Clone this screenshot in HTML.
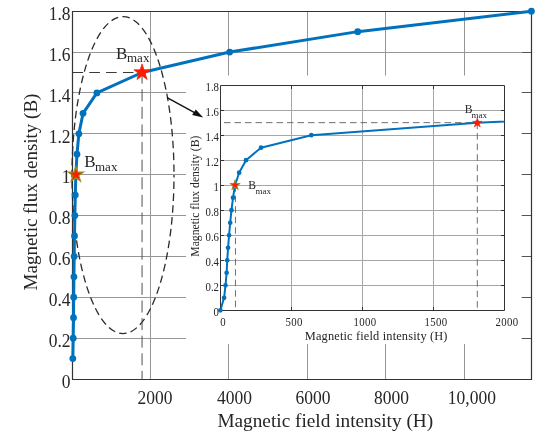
<!DOCTYPE html><html><head><meta charset="utf-8"><style>html,body{margin:0;padding:0;background:#fff;width:550px;height:439px;overflow:hidden}svg{display:block;will-change:transform}text{font-family:"Liberation Serif",serif;fill:#262626}</style></head><body>
<svg width="550" height="439" viewBox="0 0 550 439">
<rect width="550" height="439" fill="#fff"/>
<line x1="72.5" y1="338.5" x2="531.5" y2="338.5" stroke="#969696" stroke-width="1"/>
<line x1="72.5" y1="297.5" x2="531.5" y2="297.5" stroke="#969696" stroke-width="1"/>
<line x1="72.5" y1="256.5" x2="531.5" y2="256.5" stroke="#969696" stroke-width="1"/>
<line x1="72.5" y1="215.5" x2="531.5" y2="215.5" stroke="#969696" stroke-width="1"/>
<line x1="72.5" y1="174.5" x2="531.5" y2="174.5" stroke="#969696" stroke-width="1"/>
<line x1="72.5" y1="133.5" x2="531.5" y2="133.5" stroke="#969696" stroke-width="1"/>
<line x1="72.5" y1="92.5" x2="531.5" y2="92.5" stroke="#969696" stroke-width="1"/>
<line x1="72.5" y1="52.5" x2="531.5" y2="52.5" stroke="#969696" stroke-width="1"/>
<line x1="150.5" y1="11.5" x2="150.5" y2="379.5" stroke="#969696" stroke-width="1"/>
<line x1="228.5" y1="11.5" x2="228.5" y2="379.5" stroke="#969696" stroke-width="1"/>
<line x1="307.5" y1="11.5" x2="307.5" y2="379.5" stroke="#969696" stroke-width="1"/>
<line x1="385.5" y1="11.5" x2="385.5" y2="379.5" stroke="#969696" stroke-width="1"/>
<line x1="464.5" y1="11.5" x2="464.5" y2="379.5" stroke="#969696" stroke-width="1"/>
<line x1="522.0" y1="338.5" x2="531.5" y2="338.5" stroke="#555" stroke-width="1"/>
<line x1="522.0" y1="297.5" x2="531.5" y2="297.5" stroke="#555" stroke-width="1"/>
<line x1="522.0" y1="256.5" x2="531.5" y2="256.5" stroke="#555" stroke-width="1"/>
<line x1="522.0" y1="215.5" x2="531.5" y2="215.5" stroke="#555" stroke-width="1"/>
<line x1="522.0" y1="174.5" x2="531.5" y2="174.5" stroke="#555" stroke-width="1"/>
<line x1="522.0" y1="133.5" x2="531.5" y2="133.5" stroke="#555" stroke-width="1"/>
<line x1="522.0" y1="92.5" x2="531.5" y2="92.5" stroke="#555" stroke-width="1"/>
<line x1="522.0" y1="52.5" x2="531.5" y2="52.5" stroke="#555" stroke-width="1"/>
<path d="M72.5 11.5H531.5V379.5H72.5Z" fill="none" stroke="#333333" stroke-width="1.2"/>
<ellipse cx="123" cy="175.1" rx="51" ry="158.5" fill="none" stroke="#2a2a2a" stroke-width="1.3" stroke-dasharray="7.5 4.3" stroke-dashoffset="5.15"/>
<line x1="72.5" y1="72.5" x2="142.06" y2="72.5" stroke="#3a3a3a" stroke-width="1.1" stroke-dasharray="10.6 6.2"/>
<line x1="142.06" y1="72.5" x2="142.06" y2="379.5" stroke="#505050" stroke-width="1" stroke-dasharray="12 5.6" stroke-dashoffset="0.8"/>
<polyline points="72.82,358.57 73.21,338.13 73.53,317.7 73.68,297.27 73.92,276.83 74.19,256.4 74.51,235.97 74.86,215.54 75.29,195.1 75.84,174.67 76.98,154.24 78.86,133.8 83.03,113.37 96.92,92.94 142.06,72.5 229.7,52.07 357.74,31.64 531.42,11.21" fill="none" stroke="#0072BD" stroke-width="3.0" stroke-linejoin="round"/>
<circle cx="72.82" cy="358.57" r="3.4" fill="#0072BD"/>
<circle cx="73.21" cy="338.13" r="3.4" fill="#0072BD"/>
<circle cx="73.53" cy="317.7" r="3.4" fill="#0072BD"/>
<circle cx="73.68" cy="297.27" r="3.4" fill="#0072BD"/>
<circle cx="73.92" cy="276.83" r="3.4" fill="#0072BD"/>
<circle cx="74.19" cy="256.4" r="3.4" fill="#0072BD"/>
<circle cx="74.51" cy="235.97" r="3.4" fill="#0072BD"/>
<circle cx="74.86" cy="215.54" r="3.4" fill="#0072BD"/>
<circle cx="75.29" cy="195.1" r="3.4" fill="#0072BD"/>
<circle cx="75.84" cy="174.67" r="3.4" fill="#0072BD"/>
<circle cx="76.98" cy="154.24" r="3.4" fill="#0072BD"/>
<circle cx="78.86" cy="133.8" r="3.4" fill="#0072BD"/>
<circle cx="83.03" cy="113.37" r="3.4" fill="#0072BD"/>
<circle cx="96.92" cy="92.94" r="3.4" fill="#0072BD"/>
<circle cx="142.06" cy="72.5" r="3.4" fill="#0072BD"/>
<circle cx="229.7" cy="52.07" r="3.4" fill="#0072BD"/>
<circle cx="357.74" cy="31.64" r="3.4" fill="#0072BD"/>
<circle cx="531.42" cy="11.21" r="3.4" fill="#0072BD"/>
<polygon points="75.84,166.67 77.64,172.2 83.45,172.2 78.75,175.61 80.55,181.14 75.84,177.73 71.14,181.14 72.94,175.61 68.23,172.2 74.05,172.2" fill="#ff1a00" stroke="#9a8a1a" stroke-width="1.2" stroke-linejoin="miter"/>
<polygon points="142.06,63.9 143.99,69.85 150.24,69.85 145.18,73.52 147.11,79.46 142.06,75.79 137,79.46 138.93,73.52 133.88,69.85 140.13,69.85" fill="#ff1a00" stroke="#e82a10" stroke-width="0.8"/>
<text x="84.3" y="167" font-size="17">B</text><text x="95" y="170.5" font-size="13">max</text>
<text x="116" y="59.3" font-size="17">B</text><text x="127" y="62.3" font-size="13">max</text>
<rect x="186" y="75.5" width="335.5" height="268.5" fill="#fff"/>
<line x1="220.5" y1="285.5" x2="504.5" y2="285.5" stroke="#a6a6a6" stroke-width="1"/>
<line x1="220.5" y1="260.5" x2="504.5" y2="260.5" stroke="#a6a6a6" stroke-width="1"/>
<line x1="220.5" y1="235.5" x2="504.5" y2="235.5" stroke="#a6a6a6" stroke-width="1"/>
<line x1="220.5" y1="210.5" x2="504.5" y2="210.5" stroke="#a6a6a6" stroke-width="1"/>
<line x1="220.5" y1="185.5" x2="504.5" y2="185.5" stroke="#a6a6a6" stroke-width="1"/>
<line x1="220.5" y1="160.5" x2="504.5" y2="160.5" stroke="#a6a6a6" stroke-width="1"/>
<line x1="220.5" y1="135.5" x2="504.5" y2="135.5" stroke="#a6a6a6" stroke-width="1"/>
<line x1="220.5" y1="110.5" x2="504.5" y2="110.5" stroke="#a6a6a6" stroke-width="1"/>
<line x1="291.5" y1="85.5" x2="291.5" y2="310.5" stroke="#a6a6a6" stroke-width="1"/>
<line x1="362.5" y1="85.5" x2="362.5" y2="310.5" stroke="#a6a6a6" stroke-width="1"/>
<line x1="433.5" y1="85.5" x2="433.5" y2="310.5" stroke="#a6a6a6" stroke-width="1"/>
<line x1="220.5" y1="285.5" x2="224.0" y2="285.5" stroke="#333333" stroke-width="1"/>
<line x1="501.0" y1="285.5" x2="504.5" y2="285.5" stroke="#333333" stroke-width="1"/>
<line x1="220.5" y1="260.5" x2="224.0" y2="260.5" stroke="#333333" stroke-width="1"/>
<line x1="501.0" y1="260.5" x2="504.5" y2="260.5" stroke="#333333" stroke-width="1"/>
<line x1="220.5" y1="235.5" x2="224.0" y2="235.5" stroke="#333333" stroke-width="1"/>
<line x1="501.0" y1="235.5" x2="504.5" y2="235.5" stroke="#333333" stroke-width="1"/>
<line x1="220.5" y1="210.5" x2="224.0" y2="210.5" stroke="#333333" stroke-width="1"/>
<line x1="501.0" y1="210.5" x2="504.5" y2="210.5" stroke="#333333" stroke-width="1"/>
<line x1="220.5" y1="185.5" x2="224.0" y2="185.5" stroke="#333333" stroke-width="1"/>
<line x1="501.0" y1="185.5" x2="504.5" y2="185.5" stroke="#333333" stroke-width="1"/>
<line x1="220.5" y1="160.5" x2="224.0" y2="160.5" stroke="#333333" stroke-width="1"/>
<line x1="501.0" y1="160.5" x2="504.5" y2="160.5" stroke="#333333" stroke-width="1"/>
<line x1="220.5" y1="135.5" x2="224.0" y2="135.5" stroke="#333333" stroke-width="1"/>
<line x1="501.0" y1="135.5" x2="504.5" y2="135.5" stroke="#333333" stroke-width="1"/>
<line x1="220.5" y1="110.5" x2="224.0" y2="110.5" stroke="#333333" stroke-width="1"/>
<line x1="501.0" y1="110.5" x2="504.5" y2="110.5" stroke="#333333" stroke-width="1"/>
<line x1="291.5" y1="310.5" x2="291.5" y2="307.0" stroke="#333333" stroke-width="1"/>
<line x1="291.5" y1="85.5" x2="291.5" y2="89.0" stroke="#333333" stroke-width="1"/>
<line x1="362.5" y1="310.5" x2="362.5" y2="307.0" stroke="#333333" stroke-width="1"/>
<line x1="362.5" y1="85.5" x2="362.5" y2="89.0" stroke="#333333" stroke-width="1"/>
<line x1="433.5" y1="310.5" x2="433.5" y2="307.0" stroke="#333333" stroke-width="1"/>
<line x1="433.5" y1="85.5" x2="433.5" y2="89.0" stroke="#333333" stroke-width="1"/>
<path d="M220.5 85.5H504.5V310.5H220.5Z" fill="none" stroke="#333333" stroke-width="1"/>
<line x1="220.5" y1="122.65" x2="477.3" y2="122.65" stroke="#5e5e5e" stroke-width="0.9" stroke-dasharray="6.5 4" stroke-dashoffset="7"/>
<line x1="477.3" y1="122.65" x2="477.3" y2="310.5" stroke="#5e5e5e" stroke-width="0.9" stroke-dasharray="6.5 4"/>
<line x1="235.46" y1="185.2" x2="235.46" y2="310.5" stroke="#5e5e5e" stroke-width="0.9" stroke-dasharray="6.5 4"/>
<clipPath id="ic"><rect x="220.5" y="80.5" width="284.0" height="235.0"/></clipPath>
<g clip-path="url(#ic)"><polyline points="220.4,310.3 224.09,297.79 225.51,285.28 226.65,272.77 227.22,260.26 228.07,247.75 229.07,235.24 230.2,222.73 231.48,210.22 233.04,197.71 235.03,185.2 239.15,172.69 245.97,160.18 261.03,147.67 311.31,135.16 477.23,122.65 791.87,110.14" fill="none" stroke="#0072BD" stroke-width="2" stroke-linejoin="round"/></g>
<circle cx="220.4" cy="310.3" r="2.35" fill="#0072BD"/>
<circle cx="224.09" cy="297.79" r="2.35" fill="#0072BD"/>
<circle cx="225.51" cy="285.28" r="2.35" fill="#0072BD"/>
<circle cx="226.65" cy="272.77" r="2.35" fill="#0072BD"/>
<circle cx="227.22" cy="260.26" r="2.35" fill="#0072BD"/>
<circle cx="228.07" cy="247.75" r="2.35" fill="#0072BD"/>
<circle cx="229.07" cy="235.24" r="2.35" fill="#0072BD"/>
<circle cx="230.2" cy="222.73" r="2.35" fill="#0072BD"/>
<circle cx="231.48" cy="210.22" r="2.35" fill="#0072BD"/>
<circle cx="233.04" cy="197.71" r="2.35" fill="#0072BD"/>
<circle cx="235.03" cy="185.2" r="2.35" fill="#0072BD"/>
<circle cx="239.15" cy="172.69" r="2.35" fill="#0072BD"/>
<circle cx="245.97" cy="160.18" r="2.35" fill="#0072BD"/>
<circle cx="261.03" cy="147.67" r="2.35" fill="#0072BD"/>
<circle cx="311.31" cy="135.16" r="2.35" fill="#0072BD"/>
<circle cx="477.23" cy="122.65" r="2.35" fill="#0072BD"/>
<polygon points="235.03,179.8 236.24,183.53 240.17,183.53 236.99,185.84 238.21,189.57 235.03,187.26 231.86,189.57 233.07,185.84 229.9,183.53 233.82,183.53" fill="#ff1a00" stroke="#8a9a2a" stroke-width="1"/>
<polygon points="477.3,117.9 478.42,121.35 482.06,121.35 479.12,123.49 480.24,126.95 477.3,124.81 474.36,126.95 475.48,123.49 472.54,121.35 476.18,121.35" fill="#ff1a00" stroke="#e82a10" stroke-width="0.6"/>
<text x="248.2" y="188.7" font-size="11.6">B</text><text x="255.6" y="193.9" font-size="9">max</text>
<text x="464.7" y="112.9" font-size="11.6">B</text><text x="471.6" y="117.8" font-size="9">max</text>
<text transform="translate(219 315.9) scale(1 1.1)" font-size="10.8" text-anchor="end">0</text>
<text transform="translate(219 290.88) scale(1 1.1)" font-size="10.8" text-anchor="end">0.2</text>
<text transform="translate(219 265.86) scale(1 1.1)" font-size="10.8" text-anchor="end">0.4</text>
<text transform="translate(219 240.84) scale(1 1.1)" font-size="10.8" text-anchor="end">0.6</text>
<text transform="translate(219 215.82) scale(1 1.1)" font-size="10.8" text-anchor="end">0.8</text>
<text transform="translate(219 190.8) scale(1 1.1)" font-size="10.8" text-anchor="end">1</text>
<text transform="translate(219 165.78) scale(1 1.1)" font-size="10.8" text-anchor="end">1.2</text>
<text transform="translate(219 140.76) scale(1 1.1)" font-size="10.8" text-anchor="end">1.4</text>
<text transform="translate(219 115.74) scale(1 1.1)" font-size="10.8" text-anchor="end">1.6</text>
<text transform="translate(219 90.72) scale(1 1.1)" font-size="10.8" text-anchor="end">1.8</text>
<text transform="translate(223 325.8) scale(1 1.1)" font-size="10.8" letter-spacing="0.35" text-anchor="middle">0</text>
<text transform="translate(294.03 325.8) scale(1 1.1)" font-size="10.8" letter-spacing="0.35" text-anchor="middle">500</text>
<text transform="translate(365.05 325.8) scale(1 1.1)" font-size="10.8" letter-spacing="0.35" text-anchor="middle">1000</text>
<text transform="translate(436.08 325.8) scale(1 1.1)" font-size="10.8" letter-spacing="0.35" text-anchor="middle">1500</text>
<text transform="translate(507.1 325.8) scale(1 1.1)" font-size="10.8" letter-spacing="0.35" text-anchor="middle">2000</text>
<text x="376.2" y="340.2" font-size="12.4" letter-spacing="0.15" text-anchor="middle">Magnetic field intensity (H)</text>
<text transform="translate(198.9 196.2) rotate(-90)" font-size="11.7" text-anchor="middle">Magnetic flux density (B)</text>
<line x1="167.1" y1="97.7" x2="195" y2="112.8" stroke="#111" stroke-width="1.4"/>
<polygon points="203.2,117.6 192.1,114.9 195.8,109.6" fill="#111"/>
<text transform="translate(70.6 387.7) scale(1 1.12)" font-size="17.5" text-anchor="end">0</text>
<text transform="translate(70.6 346.83) scale(1 1.12)" font-size="17.5" text-anchor="end">0.2</text>
<text transform="translate(70.6 305.97) scale(1 1.12)" font-size="17.5" text-anchor="end">0.4</text>
<text transform="translate(70.6 265.1) scale(1 1.12)" font-size="17.5" text-anchor="end">0.6</text>
<text transform="translate(70.6 224.24) scale(1 1.12)" font-size="17.5" text-anchor="end">0.8</text>
<text transform="translate(70.6 183.37) scale(1 1.12)" font-size="17.5" text-anchor="end">1</text>
<text transform="translate(70.6 142.5) scale(1 1.12)" font-size="17.5" text-anchor="end">1.2</text>
<text transform="translate(70.6 101.64) scale(1 1.12)" font-size="17.5" text-anchor="end">1.4</text>
<text transform="translate(70.6 60.77) scale(1 1.12)" font-size="17.5" text-anchor="end">1.6</text>
<text transform="translate(70.6 19.91) scale(1 1.12)" font-size="17.5" text-anchor="end">1.8</text>
<text transform="translate(155.1 403.8) scale(1 1.1)" font-size="17.5" text-anchor="middle">2000</text>
<text transform="translate(234.6 403.8) scale(1 1.1)" font-size="17.5" text-anchor="middle">4000</text>
<text transform="translate(313.1 403.8) scale(1 1.1)" font-size="17.5" text-anchor="middle">6000</text>
<text transform="translate(391.6 403.8) scale(1 1.1)" font-size="17.5" text-anchor="middle">8000</text>
<text transform="translate(471.9 403.8) scale(1 1.1)" font-size="17.5" text-anchor="middle">10,000</text>
<text x="325.3" y="427.4" font-size="19.3" text-anchor="middle">Magnetic field intensity (H)</text>
<text transform="translate(37.4 192) rotate(-90)" font-size="19" text-anchor="middle">Magnetic flux density (B)</text>
</svg></body></html>
